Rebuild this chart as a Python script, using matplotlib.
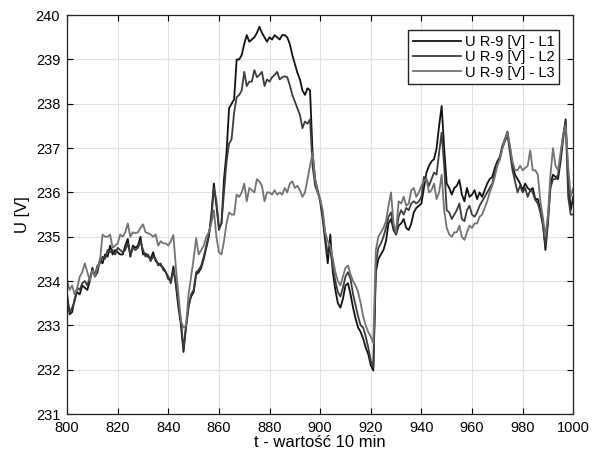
import numpy as np
import matplotlib
matplotlib.use("Agg")
import matplotlib.pyplot as plt

plt.rcParams['font.family'] = ['Liberation Sans', 'DejaVu Sans']

# time axis: 10-minute samples 800..1000
t = np.arange(800, 1001)

# phase voltages [V]
u_l1 = [
    233.7, 233.25, 233.3, 233.6, 233.75, 233.7, 233.9, 233.85, 233.8, 234.0,
    234.3, 234.1, 234.2, 234.5, 234.4, 234.6, 234.55, 234.8, 234.6, 234.7,
    234.65, 234.6, 234.6, 234.8, 234.95, 234.55, 234.8, 234.75, 234.8, 235.0,
    234.6, 234.62, 234.55, 234.5, 234.65, 234.45, 234.4, 234.35, 234.3, 234.2,
    234.05, 234.0, 234.33, 233.9, 233.4, 233.0, 232.4, 233.0, 233.45, 233.65,
    233.75, 234.15, 234.2, 234.3, 234.5, 234.75, 235.0, 235.5, 236.2, 235.7,
    235.2, 235.3, 236.3, 236.9, 237.9, 238.0, 238.1, 239.0, 239.0, 239.1,
    239.35, 239.55, 239.4, 239.45, 239.5, 239.6, 239.74, 239.6, 239.5, 239.4,
    239.5, 239.45, 239.55, 239.5, 239.45, 239.55, 239.55, 239.5, 239.35, 239.1,
    238.9, 238.7, 238.55, 238.3, 238.2, 238.35, 238.3, 236.9, 236.3, 236.05,
    235.8, 235.4, 234.9, 234.4, 235.05, 234.2, 233.8, 233.5, 233.4, 233.6,
    233.9, 233.95, 233.7, 233.4, 233.15, 232.95, 232.85, 232.7, 232.5, 232.35,
    232.1, 231.98, 234.2, 234.5, 234.6, 234.7, 234.9, 235.3, 235.4, 235.15,
    235.05, 235.25, 235.3, 235.4, 235.2, 235.15, 235.3, 235.55, 235.65, 235.7,
    235.75, 236.1, 236.45, 236.6, 236.7, 236.75, 237.0, 237.5, 237.95, 237.0,
    236.2, 236.1, 235.95, 236.1, 236.15, 236.28, 235.95, 235.8, 236.1, 235.9,
    235.95, 236.05, 235.85, 236.0, 235.9, 236.05, 236.2, 236.3, 236.35, 236.55,
    236.7, 236.8, 237.05, 237.2, 237.37, 237.0, 236.6, 236.4, 236.3, 236.2,
    236.05, 236.2, 236.1, 236.05, 236.1, 235.85, 235.85, 235.6, 235.35, 234.7,
    235.3, 236.2, 236.4, 236.35, 236.3, 236.7, 237.2, 237.65, 236.3, 235.6,
    235.9,
]

u_l2 = [
    233.6, 233.3, 233.4, 233.55, 233.85, 233.8, 233.95, 234.0, 233.9, 234.1,
    234.2, 234.15, 234.35, 234.4, 234.55, 234.5, 234.7, 234.65, 234.7, 234.6,
    234.75, 234.7, 234.65, 234.7, 234.85, 234.6, 234.75, 234.7, 234.75, 234.9,
    234.7, 234.55, 234.6, 234.45, 234.55, 234.5, 234.35, 234.4, 234.25, 234.2,
    234.1, 233.95, 234.25, 233.95, 233.5, 233.1, 232.45, 232.95, 233.4, 233.7,
    233.8, 234.2, 234.25, 234.35, 234.55, 234.8, 235.05, 235.4, 236.1, 235.8,
    235.15, 235.3, 236.0, 236.7, 237.1, 237.2, 237.8, 238.15, 238.2, 238.3,
    238.72, 238.4, 238.5, 238.5, 238.76, 238.6, 238.65, 238.72, 238.4, 238.55,
    238.5, 238.6, 238.65, 238.72, 238.55, 238.6, 238.62, 238.6, 238.42, 238.2,
    238.05, 237.9, 237.75, 237.45, 237.6, 237.55, 237.65, 236.6, 236.15, 236.0,
    235.85, 235.5, 235.0, 234.6, 234.7, 234.3, 234.0, 233.75, 233.65, 233.85,
    234.1, 234.2, 234.05, 233.7, 233.45, 233.2, 233.0, 232.95, 232.75, 232.5,
    232.2, 232.05, 234.4, 234.75, 234.85, 235.0, 235.2, 235.45, 235.55, 235.2,
    235.05, 235.45, 235.6, 235.5, 235.65, 235.6, 235.75, 235.8, 235.75, 235.8,
    235.9, 236.35, 236.3, 236.15, 236.3, 236.45, 236.4, 236.9, 237.35, 236.6,
    235.6, 235.55, 235.4, 235.5, 235.6, 235.75, 235.4, 235.35, 235.6, 235.7,
    235.5, 235.45, 235.55, 235.7, 235.8, 235.9, 236.0, 236.1, 236.2, 236.45,
    236.65, 236.75, 237.0, 237.15, 237.3, 236.9, 236.5, 236.25, 236.0, 236.15,
    236.0, 236.1, 235.9, 236.05, 236.0, 235.83, 235.75, 235.55, 235.25, 234.8,
    235.4, 236.1, 236.3, 236.3, 236.4, 236.8, 237.3, 237.6, 235.9, 235.5,
    235.5,
]

u_l3 = [
    234.0, 233.8, 233.9, 233.7, 233.85, 234.1, 234.2, 234.4, 234.2, 234.0,
    234.25, 234.1, 234.3, 234.45, 235.05, 235.0, 235.0, 235.05, 234.75, 234.8,
    234.85, 235.05, 235.0, 235.1, 235.3, 235.0, 235.1, 235.08, 235.1, 235.2,
    235.28, 235.1, 235.08, 235.05, 235.0, 235.05, 234.8, 234.9, 234.85, 234.85,
    234.8, 234.9, 235.04, 234.3, 233.7, 233.1, 232.95, 233.0, 233.7, 234.1,
    234.5, 234.97, 234.6, 234.7, 234.8, 235.0, 235.1, 235.3, 235.6, 235.0,
    234.65, 234.6, 234.9, 235.3, 235.55, 235.5, 235.5, 235.95, 235.9, 236.0,
    236.2, 235.8, 236.1, 236.05, 236.0, 236.3, 236.25, 236.15, 235.8, 236.0,
    236.0, 235.95, 236.05, 235.95, 236.0, 235.95, 236.1, 236.0, 236.2, 236.25,
    236.1, 236.15, 236.05, 235.9, 236.0, 236.3, 236.6, 236.9, 236.3, 236.0,
    235.85, 235.6, 235.1, 234.9, 234.8, 234.5, 234.2, 234.0, 233.9, 234.1,
    234.3, 234.35, 234.15, 234.0, 233.9, 233.75, 233.5, 233.2, 233.0, 232.85,
    232.75, 232.6, 234.7, 235.0, 235.1, 235.2, 235.35, 235.7, 236.0, 235.3,
    235.1, 235.8, 235.75, 235.9, 235.7, 235.75, 236.05, 236.1, 235.9, 236.0,
    236.15, 236.25, 236.3, 236.0, 236.05, 236.2, 235.85, 236.0, 236.4, 235.6,
    235.2, 235.05, 235.0, 235.1, 235.1, 235.25, 235.0, 234.93, 235.1, 235.25,
    235.2, 235.3, 235.3, 235.45, 235.5, 235.65, 235.8, 236.0, 236.15, 236.35,
    236.6, 236.75, 237.0, 237.2, 237.35, 237.05, 236.7, 236.5, 236.5, 236.6,
    236.5, 236.55, 236.6, 236.95, 236.5, 236.5, 236.4, 235.8, 235.45, 235.0,
    235.5, 236.4, 237.0, 236.6, 236.5, 236.9, 237.3, 237.5, 236.6, 235.9,
    236.1,
]

labels = ['U R-9 [V] - L1', 'U R-9 [V] - L2', 'U R-9 [V] - L3']
colors = ['#111111', '#3c3c3c', '#727272']

fig = plt.figure(figsize=(5.99, 4.59), dpi=100)
ax = fig.add_axes([0.112, 0.098, 0.845, 0.869])

for y, lab, c in zip([u_l1, u_l2, u_l3], labels, colors):
    ax.plot(t, y, color=c, lw=1.3, label=lab)

ax.set_xlim(800, 1000)
ax.set_ylim(231, 240)
ax.set_xticks(np.arange(800, 1001, 20))
ax.set_yticks(np.arange(231, 241, 1))
ax.grid(True, color='#e0e0e0', lw=0.8)
ax.set_axisbelow(True)
ax.tick_params(direction='in', top=True, right=True, labelsize=10.5, length=4)
ax.tick_params(axis='x', pad=5)
ax.tick_params(axis='y', pad=5)
for s in ax.spines.values():
    s.set_color('#222222')
    s.set_linewidth(0.9)

ax.set_xlabel('t - wartość 10 min', fontsize=12, labelpad=0)
ax.set_ylabel('U [V]', fontsize=12, labelpad=4)

leg = ax.legend(loc='upper right', bbox_to_anchor=(0.972, 0.962), fontsize=10.5,
                handlelength=3.3, handletextpad=0.3, borderpad=0.3,
                labelspacing=0.1, fancybox=False, framealpha=1, borderaxespad=0)
leg.get_frame().set_edgecolor('#222222')
leg.get_frame().set_linewidth(1.0)

fig.savefig('out.png', dpi=100)
